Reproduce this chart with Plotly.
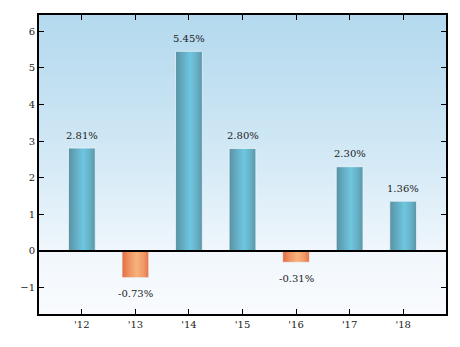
import plotly.graph_objects as go

# Annual returns by year
years = ["'12", "'13", "'14", "'15", "'16", "'17", "'18"]
returns = [2.81, -0.73, 5.45, 2.80, -0.31, 2.30, 1.36]
y_ticks = [-1, 0, 1, 2, 3, 4, 5, 6]

Y_MIN, Y_MAX = -1.72, 6.44
X_MIN, X_MAX = -0.8, 6.8
HALF_W = 0.25

FONT = "DejaVu Serif"

blue_scale = [[0.0, "#5a91a3"], [0.25, "#62aac0"], [0.55, "#6fc6e0"],
              [0.8, "#66b0c6"], [1.0, "#5b94a6"]]
orange_scale = [[0.0, "#e36c42"], [0.25, "#ee9160"], [0.55, "#f7b37d"],
                [0.8, "#f09a68"], [1.0, "#e5744a"]]

fig = go.Figure()

# gradient background of the plotting area
fig.add_trace(go.Scatter(
    x=[X_MIN, X_MAX, X_MAX, X_MIN, X_MIN],
    y=[Y_MIN, Y_MIN, Y_MAX, Y_MAX, Y_MIN],
    fill="toself", mode="lines", line=dict(width=0),
    fillgradient=dict(type="vertical", start=Y_MIN, stop=Y_MAX,
                      colorscale=[[0.0, "#f9fbfe"], [0.2, "#f1f7fc"],
                                  [0.45, "#d9ecf7"], [0.75, "#c3e1f2"],
                                  [1.0, "#b4d9ee"]]),
    hoverinfo="skip", showlegend=False,
))

# cylinder-shaded bars
for i, v in enumerate(returns):
    x0, x1 = i - HALF_W, i + HALF_W
    fig.add_trace(go.Scatter(
        x=[x0, x1, x1, x0, x0], y=[0, 0, v, v, 0],
        fill="toself", mode="lines",
        line=dict(width=1, color="rgba(235,245,250,0.8)"),
        fillgradient=dict(type="horizontal", start=x0, stop=x1,
                          colorscale=blue_scale if v >= 0 else orange_scale),
        hoverinfo="skip", showlegend=False,
    ))

# value labels, offset above positive bars and below negative ones
for i, v in enumerate(returns):
    fig.add_annotation(
        x=i, y=v, text=f"{v:.2f}%", showarrow=False,
        xanchor="center", yanchor="middle",
        yshift=13 if v >= 0 else -16,
        font=dict(family=FONT, size=10, color="#222"),
    )

# baseline at zero
fig.add_shape(type="line", xref="paper", x0=0, x1=1, yref="y", y0=0, y1=0,
              line=dict(color="black", width=2), layer="above")

axis_common = dict(showline=True, mirror="ticks", linecolor="black", linewidth=2,
                   ticks="inside", ticklen=5, tickwidth=1, tickcolor="black",
                   showgrid=False, zeroline=False, layer="above traces",
                   tickfont=dict(family=FONT, size=10, color="#222"))

fig.update_xaxes(range=[X_MIN, X_MAX], tickvals=list(range(len(years))),
                 ticktext=years, **axis_common)
fig.update_yaxes(range=[Y_MIN, Y_MAX], tickvals=y_ticks, **axis_common)

fig.update_layout(
    width=460, height=347,
    margin=dict(l=39, r=14, t=15, b=33),
    paper_bgcolor="white", plot_bgcolor="white",
    showlegend=False,
)

fig.write_html("out.html")
